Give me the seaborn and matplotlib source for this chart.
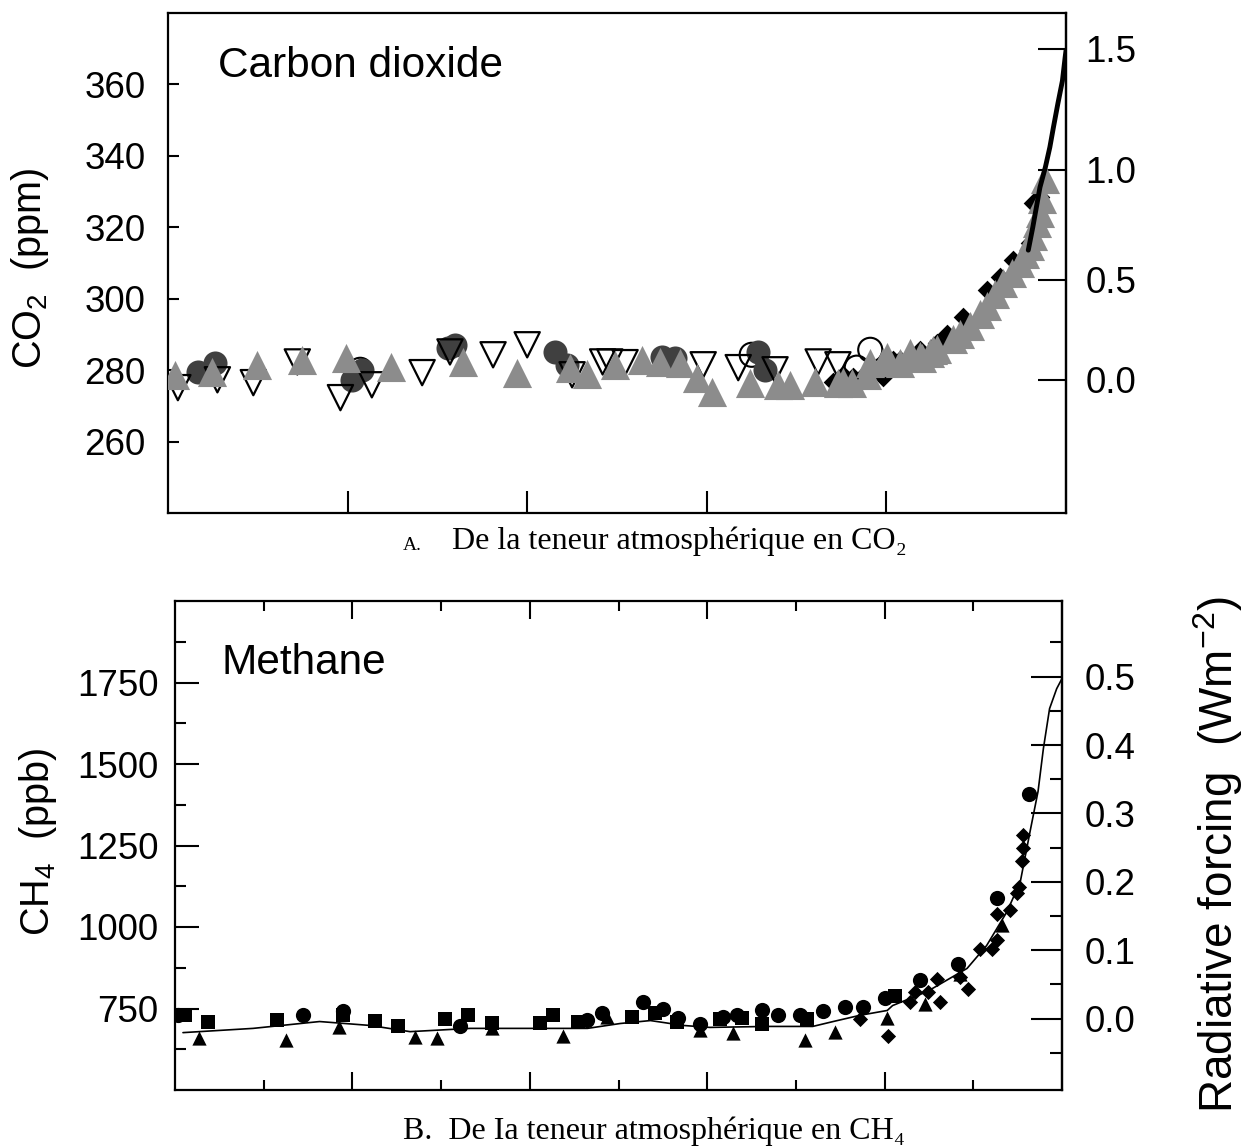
import numpy as np
import pandas as pd
import matplotlib
matplotlib.use("Agg")
import matplotlib.pyplot as plt
import seaborn as sns

# ---------------- CO2 panel data ----------------
co2_gray_year = [1008, 1049, 1099, 1149, 1198, 1248, 1329, 1389, 1448, 1467, 1498, 1528, 1548, 1570,
                 1589, 1606, 1648, 1679, 1693, 1720, 1746, 1752, 1762, 1778, 1782, 1796, 1801, 1815,
                 1826, 1837, 1840, 1852, 1856, 1874, 1893, 1912, 1930, 1949, 1960, 1968, 1973, 1977,
                 1849, 1882, 1904, 1921, 1940, 1954, 1963, 1971]
co2_gray_ppm = [278.7, 279.6, 281.5, 282.9, 283.5, 281.0, 282.3, 279.3, 280.7, 279.0, 281.5, 282.9,
                282.3, 282.1, 277.9, 274.0, 276.5, 275.9, 275.9, 276.8, 276.5, 276.8, 276.5, 278.7,
                282.1, 282.3, 283.7, 282.1, 284.9, 284.0, 283.5, 285.7, 286.0, 288.8, 292.4, 298.0,
                304.4, 310.0, 314.7, 321.2, 327.9, 333.5,
                284.9, 290.2, 295.8, 301.3, 307.2, 312.5, 317.5, 324.0]

co2_down_year = [1011, 1055, 1095, 1144, 1192, 1227, 1283, 1314, 1362, 1400, 1450, 1484, 1492, 1509,
                 1596, 1635, 1676, 1724, 1746]
co2_down_ppm = [275.1, 277.3, 276.5, 282.3, 272.3, 275.9, 279.3, 285.1, 284.3, 287.1, 278.7, 282.3,
                282.3, 282.1, 281.5, 280.7, 280.1, 282.3, 281.5]

co2_dark_year = [1033, 1052, 1205, 1216, 1312, 1320, 1431, 1444, 1550, 1565, 1657, 1665]
co2_dark_ppm = [279.6, 282.1, 277.3, 280.1, 286.3, 287.1, 285.1, 281.5, 283.7, 283.5, 285.1, 280.1]

co2_open_year = [1214, 1650, 1767, 1782]
co2_open_ppm = [280.1, 284.3, 280.7, 285.7]

co2_dia_year = [1740, 1752, 1763, 1778, 1796, 1807, 1815, 1837, 1856, 1868, 1885, 1912, 1927, 1941,
                1960, 1963, 1971]
co2_dia_ppm = [276.8, 278.7, 278.2, 279.6, 278.2, 282.9, 282.9, 285.7, 287.7, 290.0, 295.0, 302.5,
               306.0, 310.8, 315.6, 326.8, 328.4]

co2_line_year = [1958, 1963, 1971, 1977, 1982, 1986, 1991, 1996, 1999, 2000]
co2_line_ppm = [313.6, 320.0, 331.2, 336.8, 342.4, 348.0, 354.7, 361.0, 367.5, 369.5]

co2_ticks = [260, 280, 300, 320, 340, 360]
co2_rf_ticks = [0.0, 0.5, 1.0, 1.5]

# ---------------- CH4 panel data ----------------
ch4_sq_year = [1011, 1037, 1115, 1189, 1225, 1251, 1304, 1330, 1357, 1411, 1426, 1454, 1515, 1541,
               1566, 1614, 1639, 1662, 1712, 1812]
ch4_sq_ppb = [729, 710, 716, 729, 713, 695, 719, 729, 704, 704, 729, 710, 725, 735, 710, 719, 722,
              701, 719, 787]

ch4_circ_year = [1003, 1144, 1189, 1321, 1464, 1481, 1528, 1550, 1567, 1592, 1618, 1634, 1662, 1680,
                 1705, 1731, 1755, 1776, 1800, 1840, 1883, 1927, 1963]
ch4_circ_ppb = [729, 729, 741, 695, 716, 735, 771, 750, 722, 701, 725, 729, 744, 729, 729, 741, 756,
                756, 781, 836, 888, 1090, 1409]

ch4_tri_year = [1027, 1125, 1185, 1271, 1295, 1357, 1437, 1487, 1592, 1629, 1710, 1744, 1803, 1846,
                1885, 1932]
ch4_tri_ppb = [658, 652, 692, 664, 658, 689, 667, 725, 683, 676, 652, 679, 722, 765, 857, 1005]

ch4_dia_year = [1772, 1804, 1829, 1834, 1849, 1859, 1862, 1885, 1894, 1908, 1921, 1927, 1927, 1941,
                1949, 1952, 1955, 1956, 1956]
ch4_dia_ppb = [719, 667, 771, 802, 802, 842, 771, 848, 811, 931, 934, 959, 1041, 1051, 1103, 1124,
               1201, 1241, 1281]

ch4_line_year = [1009, 1088, 1163, 1220, 1265, 1333, 1408, 1465, 1502, 1536, 1573, 1603, 1667, 1719,
                 1742, 1772, 1803, 1809, 1848, 1893, 1915, 1938, 1953, 1964, 1973, 1979, 1986, 1994,
                 2000]
ch4_line_ppb = [676, 689, 710, 698, 679, 689, 689, 689, 704, 713, 698, 692, 695, 695, 710, 729, 744,
                759, 802, 873, 943, 1047, 1139, 1293, 1416, 1547, 1670, 1731, 1762]

ch4_ticks = [750, 1000, 1250, 1500, 1750]
ch4_rf_ticks = [0.0, 0.1, 0.2, 0.3, 0.4, 0.5]

# ---------------- style ----------------
sns.set_style("ticks")
plt.rcParams["font.family"] = ["Liberation Sans", "DejaVu Sans"]
plt.rcParams["mathtext.fontset"] = "custom"
plt.rcParams["mathtext.rm"] = "Liberation Sans"
plt.rcParams["mathtext.it"] = "Liberation Sans:italic"
plt.rcParams["mathtext.bf"] = "Liberation Sans:bold"
plt.rcParams["axes.linewidth"] = 1.6
plt.rcParams["axes.edgecolor"] = "black"
plt.rcParams["text.color"] = "black"
plt.rcParams["axes.labelcolor"] = "black"
plt.rcParams["xtick.color"] = "black"
plt.rcParams["ytick.color"] = "black"

W, H = 1250, 1147
fig = plt.figure(figsize=(W / 100, H / 100), dpi=100)


def rect(l, t, r, b):
    return [l / W, 1 - b / H, (r - l) / W, (b - t) / H]


GRAY = "#8c8c8c"
DARK = "#404040"
TICK_FS = 26.5

# ================= Panel A: CO2 =================
ax1 = fig.add_axes(rect(168, 13, 1066, 513))
sns.scatterplot(x=co2_open_year, y=co2_open_ppm, ax=ax1, marker="o", s=300,
                facecolor="none", edgecolor="black", linewidth=1.5, zorder=2)
sns.scatterplot(x=co2_dark_year, y=co2_dark_ppm, ax=ax1, marker="o", s=300,
                color=DARK, linewidth=0, zorder=3)
sns.scatterplot(x=co2_down_year, y=co2_down_ppm, ax=ax1, marker="v", s=330,
                facecolor="none", edgecolor="black", linewidth=1.6, zorder=4)
sns.scatterplot(x=co2_dia_year, y=co2_dia_ppm, ax=ax1, marker="D", s=100,
                color="black", linewidth=0, zorder=5)
sns.scatterplot(x=co2_gray_year, y=co2_gray_ppm, ax=ax1, marker="^", s=440,
                color=GRAY, linewidth=0, zorder=6)
sns.lineplot(x=co2_line_year, y=co2_line_ppm, ax=ax1, color="black", linewidth=3.5, zorder=7)

ax1.set_xlim(1000, 2000)
ax1.set_ylim(240, 380)
ax1.set_xticks([1200, 1400, 1600, 1800])
ax1.set_xticklabels([])
ax1.set_yticks(co2_ticks)
ax1.set_yticklabels([str(t) for t in co2_ticks])
ax1.tick_params(axis="x", direction="in", length=16, width=1.5, bottom=True, top=False)
ax1.tick_params(axis="y", direction="in", length=8, width=1.5, left=True, right=False,
                labelsize=TICK_FS, pad=16)
ax1.set_xlabel("")
ax1.set_ylabel("")

C0 = 277.3
K = 5.2


def co2_fwd(c):
    return K * np.log(np.asarray(c, dtype=float) / C0)


def co2_inv(f):
    return C0 * np.exp(np.asarray(f, dtype=float) / K)


sec1 = ax1.secondary_yaxis("right", functions=(co2_fwd, co2_inv))
sec1.set_yticks(co2_rf_ticks)
sec1.set_yticklabels([f"{t:.1f}" for t in co2_rf_ticks])
sec1.tick_params(direction="in", length=20, width=1.5, labelsize=TICK_FS, pad=14)
sec1.spines["right"].set_linewidth(1.6)

ax1.text(0.056, 0.894, "Carbon dioxide", transform=ax1.transAxes, fontsize=30.5,
         va="center", ha="left")

# ================= Panel B: CH4 =================
ax2 = fig.add_axes(rect(175, 601, 1062, 1090))
sns.lineplot(x=ch4_line_year, y=ch4_line_ppb, ax=ax2, color="black", linewidth=1.2, zorder=2)
sns.scatterplot(x=ch4_sq_year, y=ch4_sq_ppb, ax=ax2, marker="s", s=115, color="black",
                linewidth=0, zorder=3)
sns.scatterplot(x=ch4_circ_year, y=ch4_circ_ppb, ax=ax2, marker="o", s=120, color="black",
                linewidth=0, zorder=3)
sns.scatterplot(x=ch4_tri_year, y=ch4_tri_ppb, ax=ax2, marker="^", s=105, color="black",
                linewidth=0, zorder=3)
sns.scatterplot(x=ch4_dia_year, y=ch4_dia_ppb, ax=ax2, marker="D", s=60, color="black",
                linewidth=0, zorder=3)

ax2.set_xlim(1000, 2000)
ax2.set_ylim(500, 2000)
ax2.set_xticks([1200, 1400, 1600, 1800])
ax2.set_xticks([1100, 1300, 1500, 1700, 1900], minor=True)
ax2.set_xticklabels([])
ax2.set_yticks(ch4_ticks)
ax2.set_yticklabels([str(t) for t in ch4_ticks])
ax2.set_yticks([625, 875, 1125, 1375, 1625, 1875], minor=True)
ax2.tick_params(axis="x", which="major", direction="in", length=13, width=1.5,
                top=True, bottom=True)
ax2.tick_params(axis="x", which="minor", direction="in", length=7, width=1.5,
                top=True, bottom=True)
ax2.tick_params(axis="y", which="major", direction="in", length=17, width=1.5,
                left=True, right=False, labelsize=TICK_FS, pad=12)
ax2.tick_params(axis="y", which="minor", direction="in", length=8, width=1.5,
                left=True, right=False)
ax2.set_xlabel("")
ax2.set_ylabel("")

P0 = 719.0
SLOPE = 2098.0


def ch4_fwd(c):
    return (np.asarray(c, dtype=float) - P0) / SLOPE


def ch4_inv(f):
    return np.asarray(f, dtype=float) * SLOPE + P0


sec2 = ax2.secondary_yaxis("right", functions=(ch4_fwd, ch4_inv))
sec2.set_yticks(ch4_rf_ticks)
sec2.set_yticklabels([f"{t:.1f}" for t in ch4_rf_ticks])
sec2.set_yticks([-0.05, 0.05, 0.15, 0.25, 0.35, 0.45, 0.55], minor=True)
sec2.tick_params(which="major", direction="in", length=22, width=1.5, labelsize=TICK_FS, pad=16)
sec2.tick_params(which="minor", direction="in", length=9, width=1.5)
sec2.spines["right"].set_linewidth(1.6)

ax2.text(0.052, 0.873, "Methane", transform=ax2.transAxes, fontsize=30.5,
         va="center", ha="left")

# ================= labels =================
fig.text(30 / W, 1 - 268 / H, "CO$_2$  (ppm)", rotation=90, fontsize=28.5,
         ha="center", va="center")
fig.text(38 / W, 1 - 842 / H, "CH$_4$  (ppb)", rotation=90, fontsize=28.5,
         ha="center", va="center")
fig.text(1218 / W, 1 - 855 / H, "Radiative forcing  (Wm$^{-2}$)", rotation=90, fontsize=33,
         ha="center", va="center")

serif = ["Liberation Serif", "DejaVu Serif"]
fig.text(403 / W, 1 - 546 / H, "A.", fontsize=14, family=serif, ha="left", va="center")
fig.text(452 / W, 1 - 541 / H, "De la teneur atmosphérique en CO₂", fontsize=23,
         family=serif, ha="left", va="center")
fig.text(403 / W, 1 - 1131 / H, "B.  De Ia teneur atmosphérique en CH₄", fontsize=23,
         family=serif, ha="left", va="center")

fig.savefig("out.png", dpi=100)
